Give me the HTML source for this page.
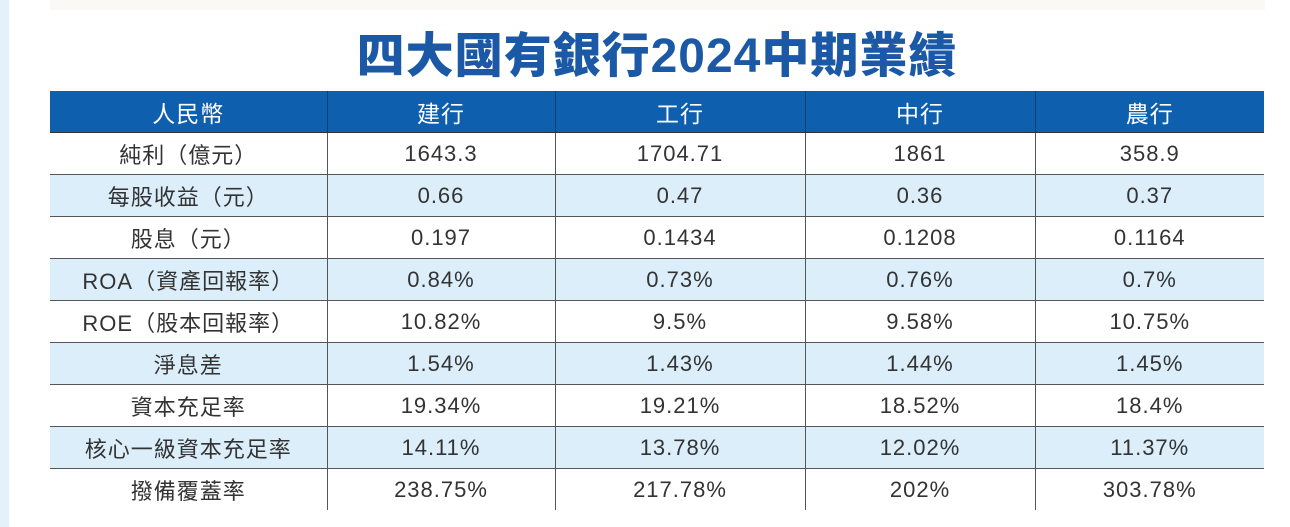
<!DOCTYPE html>
<html><head><meta charset="utf-8"><style>
body{margin:0;width:1290px;height:527px;background:#fff;position:relative;overflow:hidden;font-family:"Liberation Sans","Noto Sans CJK TC",sans-serif}
.strip{position:absolute;left:0;top:0;width:9px;height:527px;background:#e3f1fb}
.top{position:absolute;left:50px;top:0;width:1215px;height:10px;background:#faf9f6}
h1{position:absolute;left:0;width:1290px;top:27px;margin:0;text-align:center;font-size:48px;font-weight:900;color:#1b59a7;font-family:"Liberation Sans","Noto Sans CJK TC",sans-serif;letter-spacing:1px;padding-left:24px;box-sizing:border-box;line-height:60px}
table{position:absolute;left:50px;top:91px;border-collapse:collapse;width:1214px}
td,th{height:41px;padding:0;text-align:center;font-size:22px;color:#333;border-bottom:1px solid #555;border-left:1px solid #555;font-weight:normal;letter-spacing:1px}
td:first-child,th:first-child{border-left:none}
th{background:#0e5fae;color:#fff;height:41px;font-size:23px;border-left:1px solid #0a3f74;border-bottom:1px solid #333}
tr:nth-child(odd) td{background:#dbeefa}
tr:last-child td{border-bottom:none}
</style></head><body>
<div class="strip"></div><div class="top"></div>
<h1>四大國有銀行2024中期業績</h1>
<table>
<colgroup><col style="width:277px"><col style="width:228px"><col style="width:250px"><col style="width:230px"><col style="width:229px"></colgroup>
<tr><th>人民幣</th><th>建行</th><th>工行</th><th>中行</th><th>農行</th></tr>
<tr><td>純利（億元）</td><td>1643.3</td><td>1704.71</td><td>1861</td><td>358.9</td></tr>
<tr><td>每股收益（元）</td><td>0.66</td><td>0.47</td><td>0.36</td><td>0.37</td></tr>
<tr><td>股息（元）</td><td>0.197</td><td>0.1434</td><td>0.1208</td><td>0.1164</td></tr>
<tr><td>ROA（資產回報率）</td><td>0.84%</td><td>0.73%</td><td>0.76%</td><td>0.7%</td></tr>
<tr><td>ROE（股本回報率）</td><td>10.82%</td><td>9.5%</td><td>9.58%</td><td>10.75%</td></tr>
<tr><td>淨息差</td><td>1.54%</td><td>1.43%</td><td>1.44%</td><td>1.45%</td></tr>
<tr><td>資本充足率</td><td>19.34%</td><td>19.21%</td><td>18.52%</td><td>18.4%</td></tr>
<tr><td>核心一級資本充足率</td><td>14.11%</td><td>13.78%</td><td>12.02%</td><td>11.37%</td></tr>
<tr><td>撥備覆蓋率</td><td>238.75%</td><td>217.78%</td><td>202%</td><td>303.78%</td></tr>
</table>
</body></html>
